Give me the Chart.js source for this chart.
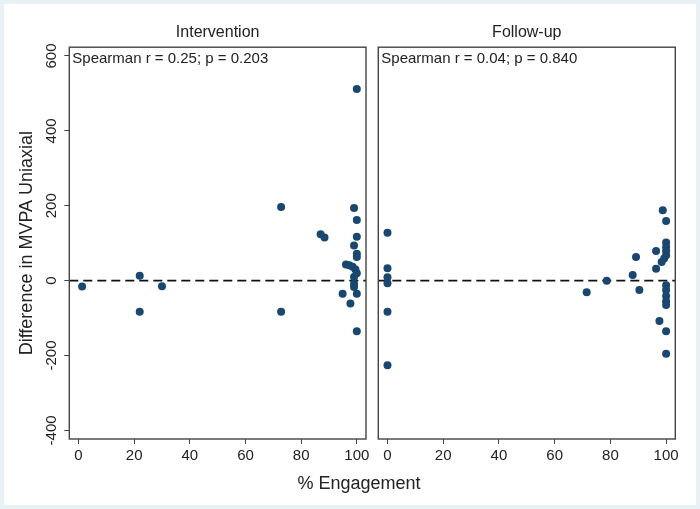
<!DOCTYPE html>
<html><head><meta charset="utf-8">
<script src="https://cdn.jsdelivr.net/npm/chart.js@4/dist/chart.umd.min.js"></script>
<style>
html,body{margin:0;padding:0;}
body{width:700px;height:509px;background:#e8f1f3;position:relative;overflow:hidden;font-family:'Liberation Sans',Arial,sans-serif;}
#inner{position:absolute;left:4px;top:4px;right:4px;bottom:4px;background:#fff;}
#cL{position:absolute;left:0;top:0;}
#cR{position:absolute;left:372px;top:0;}
#xt{position:absolute;left:0;width:718px;top:472px;line-height:22px;font-size:18px;text-align:center;color:#222;}
</style></head>
<body>
<div id="inner"></div>
<canvas id="cL" width="372" height="509"></canvas>
<canvas id="cR" width="328" height="509"></canvas>
<div id="xt">% Engagement</div>
<script>
// ---- data ----
const panelTitles = ['Intervention', 'Follow-up'];
const statLabels = ['Spearman r = 0.25; p = 0.203', 'Spearman r = 0.04; p = 0.840'];
const xTickValues = [0, 20, 40, 60, 80, 100];
const yTickValues = [-400, -200, 0, 200, 400, 600];
const interventionEngagement = [1.3, 22, 22, 30, 72.8, 72.8, 87, 88.4, 94.9, 96.1, 97.3, 97.7, 98.5, 99, 99, 99, 99, 99, 99.5, 100, 100, 100, 100, 100, 100, 100, 100];
const interventionDiff =       [-16, 13, -83, -15, 197, -83, 124, 115, -35, 43, 41, -61, 37, 194, 94, 10, -8, -17, 30, 512, 162, 117, 72, 63, 20, -35, -135];
const followupEngagement = [0, 0, 0, 0, 0, 0, 71.5, 78.7, 88, 89.2, 90.4, 96.4, 96.4, 97.6, 98.4, 98.8, 99.3, 100, 100, 100, 100, 100, 100, 100, 100, 100, 100, 100, 100];
const followupDiff =       [128, 33, 9, -7, -83, -226, -31, 0, 15, 63, -25, 79, 32, -108, 50, 188, 59, 159, 102, 90, 79, 68, -12, -25, -41, -55, -65, -135, -195];

const FONT = "'Liberation Sans', Arial, sans-serif";
const TEXT = '#222';
const MARK = '#1a476f';

const framePlugin = {
  id: 'frame',
  beforeDatasetsDraw(chart) {
    const {ctx, chartArea: a, scales} = chart;
    const y0 = scales.y.getPixelForValue(0);
    ctx.save();
    ctx.strokeStyle = '#111';
    ctx.lineWidth = 1.6;
    ctx.setLineDash([9, 5]);
    ctx.beginPath();
    ctx.moveTo(a.left, y0);
    ctx.lineTo(a.right, y0);
    ctx.stroke();
    ctx.restore();
  },
  afterDraw(chart, args, opts) {
    const {ctx, chartArea: a} = chart;
    ctx.save();
    ctx.strokeStyle = '#444';
    ctx.lineWidth = 1.4;
    ctx.strokeRect(a.left, a.top, a.right - a.left, a.bottom - a.top);
    ctx.font = '15px ' + FONT;
    ctx.fillStyle = TEXT;
    ctx.textAlign = 'left';
    ctx.textBaseline = 'middle';
    ctx.fillText(opts.text, a.left + 3, a.top + 12);
    if (opts.rotLabels) {
      const s = chart.scales.y;
      ctx.textAlign = 'center';
      s.ticks.forEach(t => {
        const py = s.getPixelForValue(t.value);
        ctx.save();
        ctx.translate(s.right - 17, py);
        ctx.rotate(-Math.PI / 2);
        ctx.fillText(String(t.value), 0, 0);
        ctx.restore();
      });
    }
    ctx.restore();
  }
};

function makeChart(id, idx, xs, ys, left) {
  const pts = xs.map((x, i) => ({x: x, y: ys[i]}));
  return new Chart(document.getElementById(id), {
    type: 'scatter',
    data: {datasets: [{data: pts, backgroundColor: MARK, borderWidth: 0, pointRadius: 4, pointHoverRadius: 4}]},
    options: {
      responsive: false, animation: false, events: [],
      layout: {padding: left ? {left: 0, right: 6, top: 0, bottom: 40} : {left: 6.3, right: 24.7, top: 0, bottom: 40}},
      plugins: {
        legend: {display: false}, tooltip: {enabled: false},
        title: {display: true, text: panelTitles[idx], fullSize: false, color: TEXT,
                font: {family: FONT, size: 16, weight: 'normal'}, padding: {top: 23, bottom: 5}},
        frame: {text: statLabels[idx], rotLabels: left}
      },
      scales: {
        x: {
          type: 'linear', min: -3.3, max: 103.3,
          afterBuildTicks: s => { s.ticks = xTickValues.map(v => ({value: v})); },
          afterFit: s => { s.height = 30; s.paddingLeft = 0; s.paddingRight = 0; },
          grid: {drawOnChartArea: false, drawTicks: true, tickLength: 5, color: '#444', lineWidth: 1},
          border: {display: false},
          ticks: {color: TEXT, font: {family: FONT, size: 15}, padding: 3, maxRotation: 0, autoSkip: false}
        },
        y: {
          type: 'linear', min: -423, max: 623.5, display: left,
          afterBuildTicks: s => { s.ticks = yTickValues.map(v => ({value: v})); },
          afterFit: s => { if (left) { s.width = 69.3; } else { s.width = 0; } s.paddingTop = 0; s.paddingBottom = 0; },
          grid: {drawOnChartArea: false, drawTicks: true, tickLength: 5, color: '#444', lineWidth: 1},
          border: {display: false},
          ticks: {display: false},
          title: {display: true, text: 'Difference in MVPA Uniaxial', color: TEXT,
                  font: {family: FONT, size: 18}, padding: {top: 16, bottom: 0}}
        }
      }
    },
    plugins: [framePlugin]
  });
}

makeChart('cL', 0, interventionEngagement, interventionDiff, true);
makeChart('cR', 1, followupEngagement, followupDiff, false);
</script>
</body></html>
